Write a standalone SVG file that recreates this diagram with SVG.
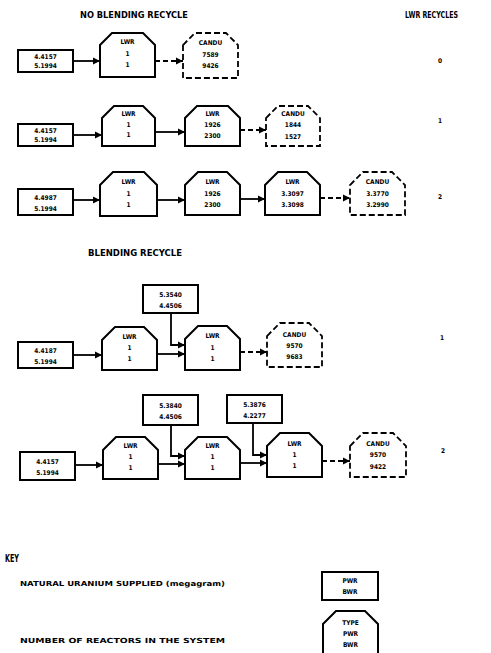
<svg xmlns="http://www.w3.org/2000/svg" width="491" height="653" viewBox="0 0 491 653">
<style>
text{font-family:"DejaVu Sans Condensed","DejaVu Sans","Liberation Sans",sans-serif;font-weight:bold;fill:#000}
.t{font-size:6.5px;text-anchor:middle}
.h{font-size:8px}
.k{font-size:7px}
.box{fill:#fff;stroke:#000;stroke-width:2}
.dash{fill:#fff;stroke:#000;stroke-width:1.8;stroke-dasharray:6,3}
.c{fill:none;stroke:#000;stroke-width:1.8}
.cd{fill:none;stroke:#000;stroke-width:1.8;stroke-dasharray:5,3}
</style>
<defs>
<marker id="a" viewBox="0 0 6 6" refX="6" refY="3" markerWidth="4" markerHeight="4" orient="auto" markerUnits="strokeWidth"><path d="M0,0L6,3L0,6Z" fill="#000"/></marker>
</defs>
<rect width="491" height="653" fill="#fff"/>
<text class="h" x="80" y="18" textLength="108" lengthAdjust="spacingAndGlyphs">NO BLENDING RECYCLE</text>
<text class="h" x="405" y="18" textLength="53" lengthAdjust="spacingAndGlyphs">LWR RECYCLES</text>
<text class="t" x="440" y="63">0</text>
<text class="t" x="440" y="123">1</text>
<text class="t" x="440" y="199">2</text>
<text class="h" x="88" y="256" textLength="94" lengthAdjust="spacingAndGlyphs">BLENDING RECYCLE</text>
<text class="t" x="442" y="340">1</text>
<text class="t" x="443" y="453">2</text>

<g id="connectors">
<path class="c" d="M73,61H100" marker-end="url(#a)"/>
<path class="cd" d="M155,61H183" marker-end="url(#a)"/>
<path class="c" d="M73,135H102" marker-end="url(#a)"/>
<path class="c" d="M155,132H185" marker-end="url(#a)"/>
<path class="cd" d="M240,130H266" marker-end="url(#a)"/>
<path class="c" d="M73,200H100" marker-end="url(#a)"/>
<path class="c" d="M157,200H185" marker-end="url(#a)"/>
<path class="c" d="M240,199H265" marker-end="url(#a)"/>
<path class="cd" d="M320,198H350" marker-end="url(#a)"/>
<path class="c" d="M73,355H102" marker-end="url(#a)"/>
<path class="c" d="M157,354H185" marker-end="url(#a)"/>
<path class="c" d="M171,313V345H185" marker-end="url(#a)"/>
<path class="cd" d="M240,352H267" marker-end="url(#a)"/>
<path class="c" d="M75,465H103" marker-end="url(#a)"/>
<path class="c" d="M158,464H185" marker-end="url(#a)"/>
<path class="c" d="M171,425V456H185" marker-end="url(#a)"/>
<path class="c" d="M240,463H267" marker-end="url(#a)"/>
<path class="c" d="M253,423V455H267" marker-end="url(#a)"/>
<path class="cd" d="M322,461H350" marker-end="url(#a)"/>
</g>

<!-- Row 1 -->
<g id="r1-feed"><rect class="box" x="18" y="50" width="55" height="22"/><text class="t" x="45.5" y="59">4.4157</text><text class="t" x="45.5" y="68">5.1994</text></g>
<g id="r1-lwr1"><path class="box" d="M100,45L112,33H143L155,45V77H100Z"/><text class="t" x="127.5" y="44">LWR</text><text class="t" x="127.5" y="56">1</text><text class="t" x="127.5" y="67">1</text></g>
<g id="r1-candu"><path class="dash" d="M183,45L195,33H226L238,45V78H183Z"/><text class="t" x="210.5" y="45">CANDU</text><text class="t" x="210.5" y="57">7589</text><text class="t" x="210.5" y="68">9426</text></g>

<!-- Row 2 -->
<g id="r2-feed"><rect class="box" x="18" y="124" width="55" height="22"/><text class="t" x="45.5" y="133">4.4157</text><text class="t" x="45.5" y="142">5.1994</text></g>
<g id="r2-lwr1"><path class="box" d="M102,118L114,106H143L155,118V146H102Z"/><text class="t" x="128.5" y="116">LWR</text><text class="t" x="128.5" y="127">1</text><text class="t" x="128.5" y="137">1</text></g>
<g id="r2-lwr2"><path class="box" d="M185,118L197,106H228L240,118V146H185Z"/><text class="t" x="212.5" y="116">LWR</text><text class="t" x="212.5" y="127">1926</text><text class="t" x="212.5" y="138">2300</text></g>
<g id="r2-candu"><path class="dash" d="M266,118L278,106H308L320,118V146H266Z"/><text class="t" x="293" y="116">CANDU</text><text class="t" x="293" y="127">1844</text><text class="t" x="293" y="139">1527</text></g>

<!-- Row 3 -->
<g id="r3-feed"><rect class="box" x="18" y="189" width="55" height="26"/><text class="t" x="45.5" y="200">4.4987</text><text class="t" x="45.5" y="211">5.1994</text></g>
<g id="r3-lwr1"><path class="box" d="M100,185L113,172H144L157,185V216H100Z"/><text class="t" x="128.5" y="184">LWR</text><text class="t" x="128.5" y="196">1</text><text class="t" x="128.5" y="207">1</text></g>
<g id="r3-lwr2"><path class="box" d="M185,185L198,172H227L240,185V215H185Z"/><text class="t" x="212.5" y="184">LWR</text><text class="t" x="212.5" y="196">1926</text><text class="t" x="212.5" y="207">2300</text></g>
<g id="r3-lwr3"><path class="box" d="M265,185L278,172H307L320,185V215H265Z"/><text class="t" x="292.5" y="184">LWR</text><text class="t" x="292.5" y="196">3.3097</text><text class="t" x="292.5" y="207">3.3098</text></g>
<g id="r3-candu"><path class="dash" d="M350,185L363,172H392L405,185V215H350Z"/><text class="t" x="377.5" y="184">CANDU</text><text class="t" x="377.5" y="196">3.3770</text><text class="t" x="377.5" y="207">3.2990</text></g>

<!-- Row 4 blending 1 -->
<g id="r4-blend"><rect class="box" x="143" y="285" width="55" height="28"/><text class="t" x="170.5" y="297">5.3540</text><text class="t" x="170.5" y="308">4.4506</text></g>
<g id="r4-feed"><rect class="box" x="18" y="342" width="55" height="26"/><text class="t" x="45.5" y="353">4.4187</text><text class="t" x="45.5" y="364">5.1994</text></g>
<g id="r4-lwr1"><path class="box" d="M102,340L115,327H144L157,340V370H102Z"/><text class="t" x="129.5" y="339">LWR</text><text class="t" x="129.5" y="350">1</text><text class="t" x="129.5" y="361">1</text></g>
<g id="r4-lwr2"><path class="box" d="M185,339L198,326H227L240,339V370H185Z"/><text class="t" x="212.5" y="338">LWR</text><text class="t" x="212.5" y="350">1</text><text class="t" x="212.5" y="361">1</text></g>
<g id="r4-candu"><path class="dash" d="M267,336L280,323H309L322,336V367H267Z"/><text class="t" x="294.5" y="337">CANDU</text><text class="t" x="294.5" y="348">9570</text><text class="t" x="294.5" y="359">9683</text></g>

<!-- Row 5 blending 2 -->
<g id="r5-blend1"><rect class="box" x="143" y="395" width="55" height="30"/><text class="t" x="170.5" y="408">5.3840</text><text class="t" x="170.5" y="419">4.4506</text></g>
<g id="r5-blend2"><rect class="box" x="227" y="395" width="55" height="28"/><text class="t" x="254.5" y="407">5.3876</text><text class="t" x="254.5" y="418">4.2277</text></g>
<g id="r5-feed"><rect class="box" x="20" y="452" width="55" height="28"/><text class="t" x="47.5" y="464">4.4157</text><text class="t" x="47.5" y="475">5.1994</text></g>
<g id="r5-lwr1"><path class="box" d="M103,450L116,437H145L158,450V479H103Z"/><text class="t" x="130.5" y="448">LWR</text><text class="t" x="130.5" y="459">1</text><text class="t" x="130.5" y="470">1</text></g>
<g id="r5-lwr2"><path class="box" d="M185,450L198,437H227L240,450V479H185Z"/><text class="t" x="212.5" y="448">LWR</text><text class="t" x="212.5" y="459">1</text><text class="t" x="212.5" y="470">1</text></g>
<g id="r5-lwr3"><path class="box" d="M267,446L280,433H309L322,446V477H267Z"/><text class="t" x="294.5" y="446">LWR</text><text class="t" x="294.5" y="457">1</text><text class="t" x="294.5" y="468">1</text></g>
<g id="r5-candu"><path class="dash" d="M350,446L363,433H393L406,446V477H350Z"/><text class="t" x="378" y="446">CANDU</text><text class="t" x="378" y="457">9570</text><text class="t" x="378" y="469">9422</text></g>

<!-- Key -->
<text x="5" y="562" style="font-size:11px" textLength="14" lengthAdjust="spacingAndGlyphs">KEY</text>
<text class="k" x="20" y="586" textLength="205" lengthAdjust="spacingAndGlyphs">NATURAL URANIUM SUPPLIED (megagram)</text>
<text class="k" x="20" y="643" textLength="205" lengthAdjust="spacingAndGlyphs">NUMBER OF REACTORS IN THE SYSTEM</text>
<g id="key-box"><rect class="box" x="322" y="572" width="56" height="28"/><text class="t" x="350" y="583">PWR</text><text class="t" x="350" y="594">BWR</text></g>
<g id="key-node"><path class="box" d="M323,624L336,611H365L378,624V660H323Z"/><text class="t" x="350.5" y="625">TYPE</text><text class="t" x="350.5" y="636">PWR</text><text class="t" x="350.5" y="647">BWR</text></g>
</svg>
